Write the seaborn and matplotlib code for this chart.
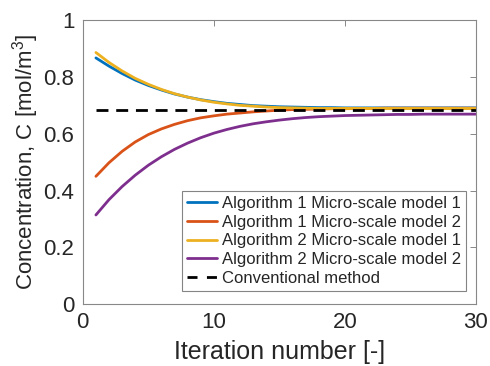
import numpy as np
import pandas as pd
import matplotlib
matplotlib.use("Agg")
import matplotlib.pyplot as plt
from matplotlib.lines import Line2D
import seaborn as sns

iterations = list(range(1, 31))
alg1_model1 = [0.867, 0.838, 0.812, 0.789, 0.770, 0.754, 0.740, 0.729, 0.720, 0.713,
               0.707, 0.703, 0.699, 0.697, 0.695, 0.694, 0.693, 0.692, 0.692, 0.691,
               0.691, 0.691, 0.691, 0.691, 0.691, 0.691, 0.691, 0.691, 0.691, 0.691]
alg1_model2 = [0.450, 0.498, 0.538, 0.571, 0.597, 0.617, 0.633, 0.646, 0.656, 0.663,
               0.669, 0.673, 0.677, 0.680, 0.683, 0.685, 0.686, 0.687, 0.688, 0.688,
               0.689, 0.689, 0.690, 0.690, 0.690, 0.690, 0.690, 0.690, 0.690, 0.690]
alg2_model1 = [0.886, 0.851, 0.821, 0.795, 0.774, 0.756, 0.741, 0.729, 0.719, 0.711,
               0.705, 0.700, 0.697, 0.694, 0.692, 0.691, 0.690, 0.689, 0.689, 0.689,
               0.689, 0.689, 0.689, 0.689, 0.689, 0.689, 0.689, 0.689, 0.689, 0.689]
alg2_model2 = [0.314, 0.368, 0.414, 0.454, 0.489, 0.519, 0.545, 0.567, 0.586, 0.602,
               0.615, 0.626, 0.635, 0.642, 0.648, 0.653, 0.657, 0.660, 0.662, 0.664,
               0.665, 0.666, 0.667, 0.668, 0.668, 0.669, 0.669, 0.669, 0.669, 0.669]
conventional = 0.684

series_names = ["Algorithm 1 Micro-scale model 1", "Algorithm 1 Micro-scale model 2",
                "Algorithm 2 Micro-scale model 1", "Algorithm 2 Micro-scale model 2"]
conv_name = "Conventional method"
colors = ["#0072BD", "#D95319", "#EDB120", "#7E2F8E"]

df = pd.DataFrame({
    "Iteration": iterations * 4,
    "C": alg1_model1 + alg1_model2 + alg2_model1 + alg2_model2,
    "Series": sum([[n] * len(iterations) for n in series_names], []),
})

sns.set_style("white")
plt.rcParams['font.family'] = ['Liberation Sans', 'DejaVu Sans']
plt.rcParams['mathtext.fontset'] = 'custom'
plt.rcParams['mathtext.rm'] = 'Liberation Sans'

fig = plt.figure(figsize=(4.9, 3.66), dpi=100)
ax = fig.add_axes([0.169, 0.169, 0.802, 0.776])

dash = (0, (4.3, 2.8))
sns.lineplot(data=df, x="Iteration", y="C", hue="Series", hue_order=series_names,
             palette=colors, linewidth=2, ax=ax, legend=False)
ax.plot([iterations[0], iterations[-1]], [conventional, conventional], color="black",
        linestyle=dash, linewidth=2)

handles = [Line2D([], [], color=c, linewidth=2) for c in colors]
handles.append(Line2D([], [], color="black", linewidth=2, linestyle=(0, (3.6, 3.4))))
leg = ax.legend(handles, series_names + [conv_name], loc="lower right",
                bbox_to_anchor=(0.975, 0.047), fontsize=12, handlelength=1.8,
                handletextpad=0.3, labelspacing=0.22, borderpad=0.3, frameon=True,
                fancybox=False, edgecolor="#666666", borderaxespad=0)
leg.get_frame().set_linewidth(0.8)

ax.set_xlim(0, 30)
ax.set_ylim(0, 1)
ax.set_xticks([0, 10, 20, 30])
ax.set_yticks([0, 0.2, 0.4, 0.6, 0.8, 1])
ax.set_yticklabels(["0", "0.2", "0.4", "0.6", "0.8", "1"])
ax.tick_params(direction="in", length=4, width=0.7, colors="#888888", labelsize=16,
               top=True, right=True, pad=6, labelcolor="#262626")
for sp in ax.spines.values():
    sp.set_color("#888888")
    sp.set_linewidth(0.8)
    sp.set_visible(True)
ax.set_xlabel("Iteration number [-]", fontsize=18, color="#262626", labelpad=5)
ax.set_ylabel("Concentration, C [mol/m$^3$]", fontsize=16, color="#262626", labelpad=2)

fig.savefig("out.png", dpi=100)
